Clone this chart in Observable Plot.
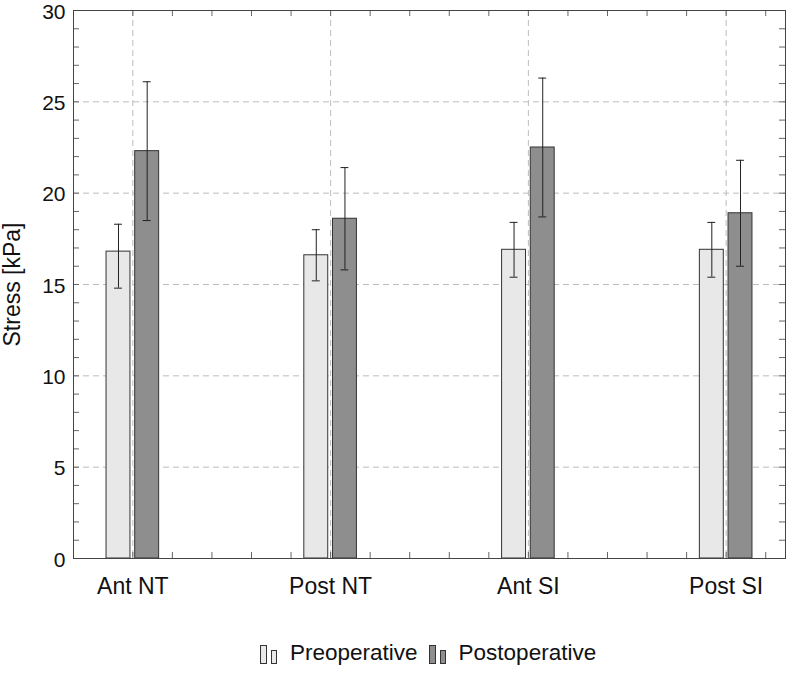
<!DOCTYPE html>
<html>
<head>
<meta charset="utf-8">
<script src="https://cdn.jsdelivr.net/npm/d3@7"></script>
<script src="https://cdn.jsdelivr.net/npm/@observablehq/plot@0.6"></script>
<style>
  html, body { margin: 0; padding: 0; background: #fff; }
  body { width: 786px; font-family: "Liberation Sans", Arial, Helvetica, sans-serif; }
  #legend { display: flex; align-items: flex-end; padding-left: 260px; padding-top: 30px; font-size: 22.5px; line-height: 26px; color: #111; }
  .item { display: inline-flex; align-items: flex-end; }
  .icon { display: block; margin-bottom: 2px; margin-right: 12px; }
</style>
</head>
<body>
<div id="chart"></div>
<div id="legend"></div>
<script>
// ---- data ----
const categories = ["Ant NT", "Post NT", "Ant SI", "Post SI"];
const seriesNames = ["Preoperative", "Postoperative"];
const preMean  = [16.8, 16.6, 16.9, 16.9];
const preLow   = [14.8, 15.2, 15.4, 15.4];
const preHigh  = [18.3, 18.0, 18.4, 18.4];
const postMean = [22.3, 18.6, 22.5, 18.9];
const postLow  = [18.5, 15.8, 18.7, 16.0];
const postHigh = [26.1, 21.4, 26.3, 21.8];
const yMajorTicks = [0, 5, 10, 15, 20, 25, 30];

// ---- layout / style ----
const W = 786, H = 610;
const mL = 73, mR = 1, mT = 10, mB = 52;
const plotW = W - mL - mR, plotH = H - mT - mB;
const fills = {Preoperative: "#e8e8e8", Postoperative: "#8e8e8e"};
const shift = {Preoperative: -0.0725, Postoperative: 0.0725};
const halfBar = 0.0605, capHalf = 0.02;
const gridStyle = {stroke: "#bdbdbd", strokeOpacity: 1, strokeDasharray: "6,4"};
const tickLen = 6;

const rows = [];
categories.forEach((c, i) => {
  rows.push({cat: c, pos: i + 1, series: seriesNames[0], mean: preMean[i], lo: preLow[i], hi: preHigh[i]});
  rows.push({cat: c, pos: i + 1, series: seriesNames[1], mean: postMean[i], lo: postLow[i], hi: postHigh[i]});
});
const ctr = d => d.pos + shift[d.series];

const catPos = categories.map((c, i) => i + 1);
const xMinor = d3.range(1, 4.3, 0.2).map(v => Math.round(v * 10) / 10);
const yMinor = d3.range(0, 31, 1);

const chart = Plot.plot({
  width: W, height: H,
  marginLeft: mL, marginRight: mR, marginTop: mT, marginBottom: mB,
  style: {fontFamily: '"Liberation Sans", Arial, Helvetica, sans-serif', color: "#111", background: "#fff", overflow: "visible"},
  x: {domain: [0.7, 4.3]},
  y: {domain: [0, 30]},
  marks: [
    Plot.gridY(yMajorTicks.filter(v => v > 0 && v < 30), gridStyle),
    Plot.gridX(catPos, gridStyle),
    Plot.rect(rows, {x1: d => ctr(d) - halfBar, x2: d => ctr(d) + halfBar, y1: 0, y2: "mean",
      fill: d => fills[d.series], stroke: "#333", strokeWidth: 1}),
    Plot.ruleX(rows, {x: ctr, y1: "lo", y2: "hi", stroke: "#222", strokeWidth: 1}),
    Plot.ruleY(rows, {y: "hi", x1: d => ctr(d) - capHalf, x2: d => ctr(d) + capHalf, stroke: "#222", strokeWidth: 1}),
    Plot.ruleY(rows, {y: "lo", x1: d => ctr(d) - capHalf, x2: d => ctr(d) + capHalf, stroke: "#222", strokeWidth: 1}),
    // inward ticks on all four sides
    Plot.tickY(yMinor, {y: d => d, insetRight: plotW - tickLen, stroke: "#666"}),
    Plot.tickY(yMinor, {y: d => d, insetLeft: plotW - tickLen, stroke: "#666"}),
    Plot.tickX(xMinor, {x: d => d, insetBottom: plotH - tickLen, stroke: "#666"}),
    Plot.tickX(xMinor, {x: d => d, insetTop: plotH - tickLen, stroke: "#666"}),
    Plot.frame({stroke: "#444", strokeWidth: 1}),
    Plot.axisY(yMajorTicks, {tickSize: 0, tickPadding: 8, fontSize: 21, dy: 1.5, label: null}),
    Plot.axisX(catPos, {tickSize: 0, tickPadding: 19, fontSize: 23, label: null,
      tickFormat: v => categories[v - 1]}),
    Plot.text(["Stress [kPa]"], {frameAnchor: "left", textAnchor: "middle", dx: -61, rotate: -90, fontSize: 23, fill: "#111"})
  ]
});
document.getElementById("chart").appendChild(chart);

// ---- legend (pgfplots-style ybar legend images) ----
const legend = document.getElementById("legend");
const svgNS = "http://www.w3.org/2000/svg";
seriesNames.forEach((name, k) => {
  const item = document.createElement("span");
  item.className = "item";
  item.style.marginRight = k === 0 ? "11px" : "0";
  const icon = document.createElementNS(svgNS, "svg");
  icon.setAttribute("width", "18");
  icon.setAttribute("height", "19");
  icon.setAttribute("class", "icon");
  [[0.5, 0.5, 6, 18], [11.5, 5.5, 5, 13]].forEach(([x, y, w, h]) => {
    const r = document.createElementNS(svgNS, "rect");
    r.setAttribute("x", x); r.setAttribute("y", y);
    r.setAttribute("width", w); r.setAttribute("height", h);
    r.setAttribute("fill", fills[name]); r.setAttribute("stroke", "#333");
    icon.appendChild(r);
  });
  const t = document.createElement("span");
  t.textContent = name;
  item.append(icon, t);
  legend.appendChild(item);
});
</script>
</body>
</html>
